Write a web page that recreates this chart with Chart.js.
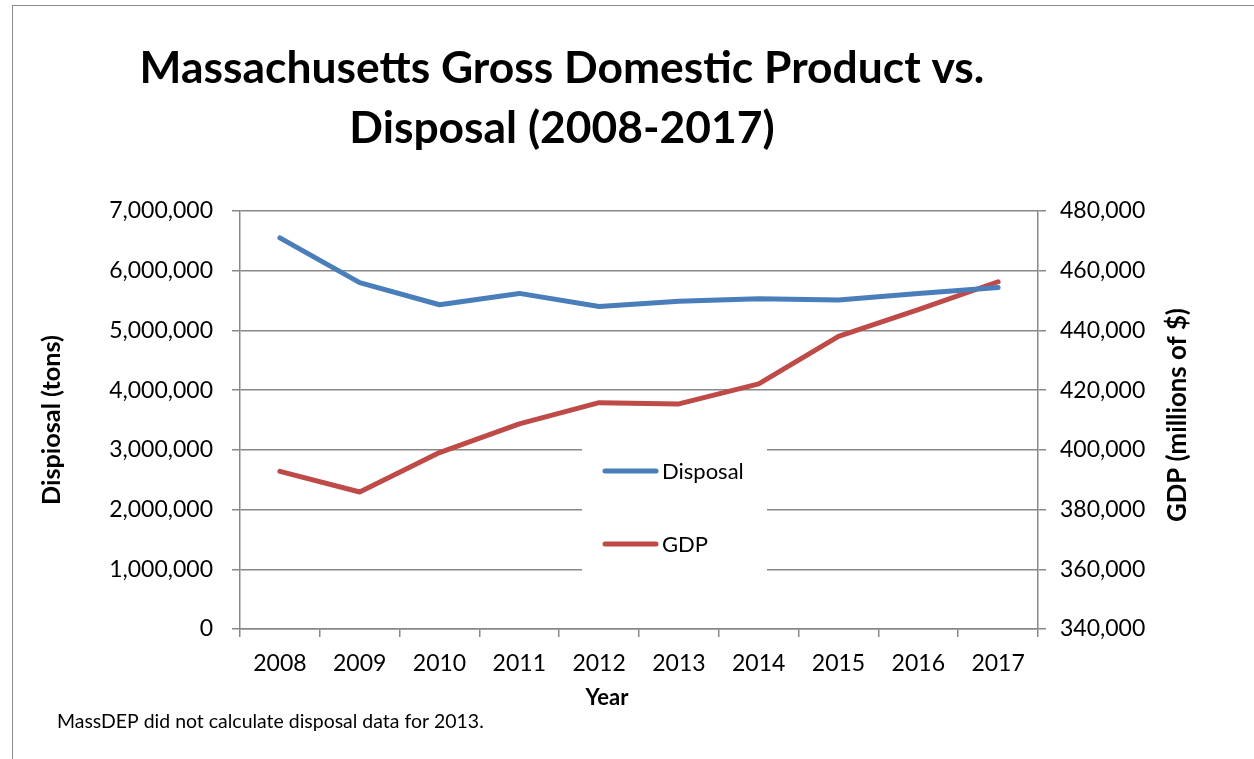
<!DOCTYPE html>
<html>
<head>
<meta charset="utf-8">
<script src="https://cdn.jsdelivr.net/npm/chart.js@4.4.1/dist/chart.umd.min.js"></script>
<style>
  html, body { margin: 0; padding: 0; background: #fff; overflow: hidden; width: 1254px; height: 759px; }
  #frame { position: absolute; left: 12px; top: 5px; width: 2000px; height: 2000px; border: 1.5px solid #8a8a8a; box-sizing: border-box; }
  #c { position: absolute; left: 0; top: 0; }
</style>
</head>
<body>
<div id="frame"></div>
<canvas id="c" width="1254" height="759"></canvas>
<script>
// ---- data ----
const years = ['2008','2009','2010','2011','2012','2013','2014','2015','2016','2017'];
const disposalTons = [6550000, 5800000, 5430000, 5620000, 5400000, 5490000, 5530000, 5510000, 5620000, 5720000];
const gdpMillions = [392800, 385900, 399100, 408700, 415800, 415400, 422100, 438000, 447000, 456300];
const leftTicks = [0, 1000000, 2000000, 3000000, 4000000, 5000000, 6000000, 7000000];
const rightTicks = [340000, 360000, 380000, 400000, 420000, 440000, 460000, 480000];
const titleLines = ['Massachusetts Gross Domestic Product vs.', 'Disposal (2008-2017)'];
const leftAxisTitle = 'Dispiosal (tons)';
const rightAxisTitle = 'GDP (millions of $)';
const xAxisTitle = 'Year';
const footnote = 'MassDEP did not calculate disposal data for 2013.';

const FONT = 'Lato, "Open Sans", sans-serif';
const GRID = '#888888';
const fmt = v => Number(v).toLocaleString('en-US');

function fitFont(ctx, text, weight, targetW) {
  ctx.font = weight + ' 40px ' + FONT;
  const w = ctx.measureText(text).width;
  return 40 * targetW / w;
}

const measureCtx = document.createElement('canvas').getContext('2d');
const leftTitleSize = fitFont(measureCtx, leftAxisTitle, 'bold', 170);
const leftTitlePad = 52 - leftTitleSize * 1.2 / 2;

const decor = {
  id: 'decor',
  beforeDatasetsDraw(chart) {
    const ctx = chart.ctx;
    ctx.save();
    ctx.fillStyle = '#ffffff';
    ctx.fillRect(582, 436, 185, 146);
    ctx.restore();
  },
  afterDatasetsDraw(chart) {
    const ctx = chart.ctx;
    ctx.save();
    const ys = [471, 544];
    chart.data.datasets.forEach((ds, i) => {
      ctx.strokeStyle = ds.borderColor;
      ctx.lineWidth = 5;
      ctx.lineCap = 'round';
      ctx.beginPath();
      ctx.moveTo(605, ys[i]);
      ctx.lineTo(656, ys[i]);
      ctx.stroke();
      ctx.fillStyle = '#000';
      ctx.font = '22px ' + FONT;
      ctx.textAlign = 'left';
      ctx.textBaseline = 'middle';
      ctx.fillText(ds.label, 662, ys[i] + 1);
    });
    ctx.restore();
  },
  afterDraw(chart) {
    const ctx = chart.ctx;
    ctx.save();
    ctx.fillStyle = '#000';
    // title
    const ts = fitFont(ctx, titleLines[0], 'bold', 845);
    ctx.font = 'bold ' + ts + 'px ' + FONT;
    ctx.textAlign = 'center';
    ctx.textBaseline = 'alphabetic';
    ctx.fillText(titleLines[0], 562, 83);
    ctx.fillText(titleLines[1], 562, 143);
    // x axis title
    ctx.font = 'bold 22px ' + FONT;
    ctx.textBaseline = 'middle';
    ctx.fillText(xAxisTitle, 607, 698);
    // right axis title (reads bottom-to-top)
    const rs = fitFont(ctx, rightAxisTitle, 'bold', 214);
    ctx.font = 'bold ' + rs + 'px ' + FONT;
    ctx.translate(1178, 415);
    ctx.rotate(-Math.PI / 2);
    ctx.fillText(rightAxisTitle, 0, 0);
    ctx.setTransform(1, 0, 0, 1, 0, 0);
    // footnote
    const fs = fitFont(ctx, footnote, 'normal', 427);
    ctx.font = fs + 'px ' + FONT;
    ctx.textAlign = 'left';
    ctx.textBaseline = 'middle';
    ctx.fillText(footnote, 57, 722);
    ctx.restore();
  }
};

new Chart(document.getElementById('c'), {
  type: 'line',
  data: {
    labels: years,
    datasets: [
      { label: 'Disposal', data: disposalTons, yAxisID: 'y', borderColor: '#4A7EBB', backgroundColor: '#4A7EBB',
        borderWidth: 5, pointRadius: 0, tension: 0, borderCapStyle: 'round', borderJoinStyle: 'round' },
      { label: 'GDP', data: gdpMillions, yAxisID: 'y2', borderColor: '#BE4B48', backgroundColor: '#BE4B48',
        borderWidth: 5, pointRadius: 0, tension: 0, borderCapStyle: 'round', borderJoinStyle: 'round' }
    ]
  },
  options: {
    responsive: false,
    devicePixelRatio: 1,
    animation: false,
    layout: { padding: { top: 211, left: 0, right: 0, bottom: 0 } },
    plugins: { legend: { display: false }, tooltip: { enabled: false }, title: { display: false } },
    scales: {
      x: {
        type: 'category',
        offset: true,
        grid: { offset: true, drawOnChartArea: false, drawTicks: true, tickLength: 8, color: GRID, lineWidth: 1.5 },
        border: { display: true, color: GRID, width: 1.5 },
        ticks: { color: '#000', font: { family: FONT, size: 23 }, padding: 13, maxRotation: 0, autoSkip: false },
        afterFit: s => { s.height = 130; }
      },
      y: {
        position: 'left',
        min: 0, max: 7000000,
        afterBuildTicks: s => { s.ticks = leftTicks.map(v => ({ value: v })); },
        grid: { drawTicks: true, tickLength: 8, color: GRID, lineWidth: 1.5 },
        border: { display: true, color: GRID, width: 1.5 },
        ticks: { color: '#000', font: { family: FONT, size: 23 }, padding: 19, callback: v => fmt(v) },
        title: { display: true, text: leftAxisTitle, color: '#000', font: { family: FONT, size: leftTitleSize, weight: 'bold' }, padding: { top: leftTitlePad, bottom: 0 } },
        afterFit: s => { s.width = 240; }
      },
      y2: {
        position: 'right',
        min: 340000, max: 480000,
        afterBuildTicks: s => { s.ticks = rightTicks.map(v => ({ value: v })); },
        grid: { drawOnChartArea: false, drawTicks: true, tickLength: 8, color: GRID, lineWidth: 1.5 },
        border: { display: true, color: GRID, width: 1.5 },
        ticks: { color: '#000', font: { family: FONT, size: 23 }, padding: 14, callback: v => fmt(v) },
        afterFit: s => { s.width = 216; }
      }
    }
  },
  plugins: [decor]
});
</script>
</body>
</html>
